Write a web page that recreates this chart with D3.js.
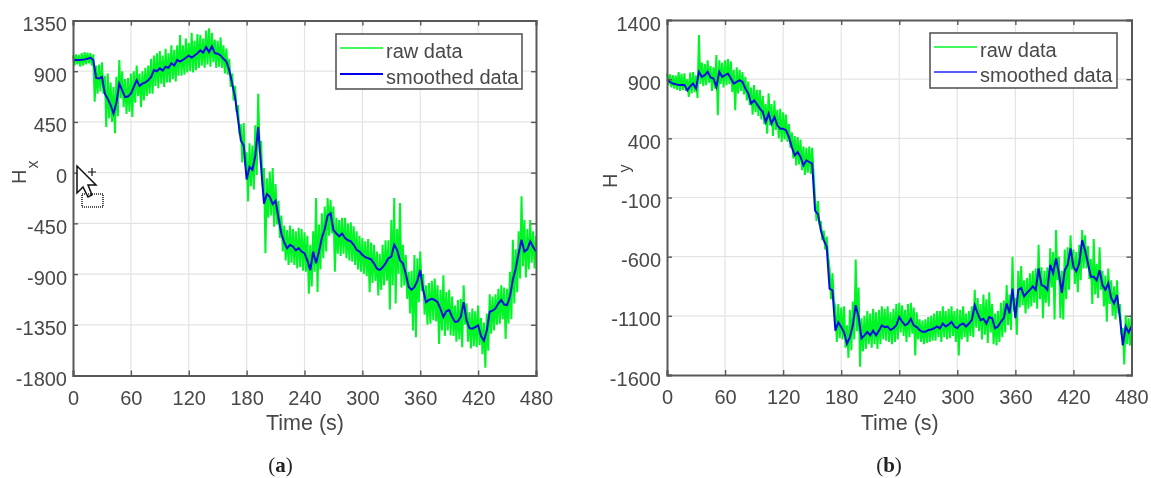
<!DOCTYPE html>
<html>
<head>
<meta charset="utf-8">
<script src="https://cdnjs.cloudflare.com/ajax/libs/d3/7.8.5/d3.min.js"></script>
<style>
    html, body { margin: 0; padding: 0; background: #fff; }
    svg { display: block; filter: blur(0.5px); }
    text { font-family: "Liberation Sans", Arial, sans-serif; fill: #484848; }
</style>
</head>
<body>
<div id="chart"></div>
<script>
//Datos: cada fila son 60 s, una muestra cada 3 s
const xTicks = [0, 60, 120, 180, 240, 300, 360, 420, 480];
const hxTicks = [-1800, -1350, -900, -450, 0, 450, 900, 1350];
const hyTicks = [-1600, -1100, -600, -100, 400, 900, 1400];

const hxSmooth = [
    998, 1000, 1000, 1002, 1005, 1010, 1020, 1000, 840, 835, 850, 700, 655, 600, 525, 620, 790, 730, 670, 675,
    700, 760, 820, 770, 790, 800, 820, 850, 910, 900, 925, 905, 940, 930, 970, 950, 1000, 985, 1000, 1020,
    1040, 1020, 1040, 1060, 1085, 1065, 1115, 1070, 1120, 1060, 1055, 1040, 1010, 985, 910, 790, 670, 480, 285, 240,
    -60, 50, 25, 150, 405, 50, -275, -190, -215, -280, -250, -400, -540, -620, -670, -640, -655, -690, -670, -700,
    -715, -780, -865, -700, -805, -700, -580, -500, -380, -360, -510, -540, -565, -540, -580, -600, -610, -640, -685, -700,
    -730, -750, -760, -770, -805, -850, -865, -840, -805, -760, -745, -640, -685, -780, -805, -900, -1015, -1040, -1015, -960,
    -865, -1040, -1150, -1130, -1120, -1130, -1150, -1210, -1280, -1230, -1220, -1280, -1325, -1320, -1280, -1150, -1310, -1380, -1385, -1370,
    -1355, -1450, -1490, -1400, -1235, -1225, -1205, -1160, -1130, -1170, -1175, -1100, -950, -850, -715, -595, -700, -680, -610, -660,
    -700
];
const hxRawHigh = [
    1040, 1050, 1045, 1060, 1070, 1065, 1060, 1050, 950, 960, 980, 860, 880, 800, 760, 850, 1000, 900, 830, 840,
    880, 900, 950, 880, 900, 930, 950, 1010, 1040, 1060, 1080, 1040, 1100, 1060, 1130, 1090, 1130, 1220, 1130, 1190,
    1150, 1240, 1170, 1230, 1220, 1190, 1260, 1280, 1240, 1180, 1170, 1200, 1130, 1100, 1010, 880, 770, 600, 430, 440,
    180, 260, 240, 420, 700, 280, 40, -50, 10, 40, -100, -250, -380, -470, -510, -470, -500, -520, -490, -500,
    -530, -560, -640, -520, -225, -460, -360, -300, -225, -240, -300, -400, -420, -400, -400, -450, -440, -475, -520, -560,
    -580, -610, -590, -620, -640, -700, -720, -640, -600, -600, -420, -225, -500, -270, -640, -730, -880, -870, -730, -760,
    -700, -900, -1000, -980, -960, -940, -1000, -1040, -910, -1060, -1040, -1100, -1180, -1130, -1120, -1000, -1160, -1240, -1205, -1230,
    -1180, -1290, -1330, -1250, -1080, -1100, -1080, -1030, -1000, -1020, -1030, -880, -595, -680, -520, -210, -420, -500, -420, -520,
    -560
];
const hxRawLow = [
    950, 960, 940, 950, 960, 970, 950, 630, 700, 720, 700, 405, 480, 450, 350, 500, 660, 580, 520, 540,
    495, 620, 680, 580, 640, 680, 700, 700, 770, 750, 790, 760, 800, 800, 830, 810, 860, 860, 870, 890,
    900, 890, 910, 930, 950, 930, 960, 940, 980, 930, 940, 930, 880, 870, 760, 640, 540, 340, 90, 60,
    -255, -120, -150, -20, 180, -120, -715, -400, -380, -480, -460, -580, -700, -780, -820, -800, -820, -850, -840, -870,
    -880, -1075, -1010, -880, -1060, -860, -760, -700, -560, -540, -880, -720, -740, -720, -760, -780, -790, -820, -860, -880,
    -900, -920, -1060, -980, -960, -1090, -1040, -1000, -960, -1215, -1000, -1160, -900, -1020, -1000, -1120, -1250, -1400, -1460, -1150,
    -1050, -1260, -1350, -1340, -1310, -1320, -1520, -1400, -1450, -1400, -1445, -1450, -1500, -1480, -1550, -1350, -1500, -1560, -1540, -1550,
    -1530, -1610, -1730, -1580, -1430, -1400, -1350, -1340, -1300, -1475, -1340, -1300, -1160, -1060, -940, -830, -930, -860, -800, -850,
    -860
];

const hySmooth = [
    897, 877, 863, 858, 850, 850, 850, 806, 840, 863, 820, 962, 920, 934, 962, 914, 906, 835, 962, 920,
    934, 948, 906, 863, 877, 892, 877, 820, 778, 694, 722, 688, 651, 623, 538, 609, 524, 581, 510, 482,
    482, 468, 411, 326, 256, 284, 242, 171, 214, 200, 186, -210, -240, -380, -460, -515, -870, -885, -1225, -1155,
    -1195, -1240, -1335, -1280, -1180, -1010, -1110, -1290, -1265, -1235, -1265, -1225, -1265, -1225, -1180, -1195, -1190, -1220, -1205, -1180,
    -1110, -1150, -1180, -1165, -1125, -1180, -1195, -1220, -1235, -1235, -1220, -1215, -1205, -1190, -1205, -1165, -1190, -1175, -1150, -1190,
    -1205, -1175, -1165, -1190, -1165, -1135, -1010, -1080, -1137, -1125, -1165, -1110, -1120, -1205, -1190, -1150, -1120, -995, -1080, -870,
    -1120, -880, -865, -935, -905, -880, -850, -880, -700, -840, -850, -880, -670, -740, -615, -740, -905, -715, -670, -530,
    -685, -725, -655, -460, -545, -655, -770, -770, -800, -715, -840, -880, -825, -950, -995, -925, -1110, -1350, -1190, -1240,
    -1190
];
const hyRawHigh = [
    950, 940, 935, 930, 960, 945, 950, 900, 955, 960, 930, 1272, 1040, 1030, 1060, 1010, 1000, 1103, 1060, 1040,
    1060, 1070, 1050, 980, 1000, 980, 960, 920, 880, 830, 850, 810, 810, 760, 690, 780, 690, 720, 640, 650,
    620, 600, 520, 450, 420, 410, 390, 330, 320, 330, 320, -100, -130, -300, -380, -430, -700, -740, -1020, -1000,
    -1030, -1020, -1180, -1050, -980, -625, -860, -1120, -1100, -1060, -1080, -1040, -1070, -1050, -1020, -1040, -1020, -1070, -1040, -1000,
    -990, -1010, -1050, -1000, -990, -1030, -1070, -1130, -1140, -1130, -1110, -1100, -1080, -1060, -1060, -1020, -1060, -1040, -1020, -1060,
    -1040, -1050, -1020, -1080, -1060, -1020, -880, -950, -1000, -920, -960, -900, -1000, -1080, -1060, -990, -970, -840, -920, -600,
    -950, -720, -680, -800, -780, -740, -720, -700, -500, -690, -720, -690, -530, -560, -375, -600, -720, -540, -520, -420,
    -540, -560, -500, -375, -420, -510, -620, -450, -660, -520, -720, -760, -700, -800, -850, -800, -1000, -1200, -1095, -1120,
    -1090
];
const hyRawLow = [
    850, 830, 820, 810, 800, 810, 800, 750, 780, 790, 740, 860, 840, 850, 870, 800, 820, 595, 860, 830,
    850, 860, 790, 637, 780, 800, 770, 720, 680, 600, 620, 590, 560, 520, 440, 510, 420, 470, 400, 370,
    390, 370, 320, 230, 170, 180, 130, 90, 110, 100, 100, -300, -330, -460, -540, -600, -960, -980, -1320, -1290,
    -1300, -1370, -1455, -1390, -1300, -1230, -1530, -1400, -1380, -1340, -1370, -1340, -1380, -1340, -1300, -1310, -1320, -1340, -1320, -1300,
    -1240, -1270, -1320, -1280, -1250, -1435, -1300, -1320, -1340, -1330, -1320, -1310, -1310, -1280, -1320, -1280, -1300, -1290, -1270, -1320,
    -1435, -1300, -1280, -1320, -1270, -1280, -1200, -1230, -1300, -1260, -1330, -1240, -1340, -1350, -1320, -1280, -1240, -1180, -1220, -1060,
    -1260, -1030, -1010, -1080, -1040, -1020, -990, -1040, -960, -1120, -990, -1020, -860, -1130, -800, -1120, -1130, -960, -880, -710,
    -830, -900, -800, -700, -700, -790, -1000, -920, -950, -880, -1020, -1150, -1000, -1100, -1130, -1080, -1260, -1510, -1340, -1350,
    -1300
];

//Colores fijos
const COLOR_RAW = '#00f526',
COLOR_SMOOTH = '#0010dc',
COLOR_AXIS = '#585858',
COLOR_GRID = '#e4e4e4';

const STEP = 3;

let svg = d3.select('#chart')
    .append('svg')
    .attr('width', 1151)
    .attr('height', 478);

function drawPanel(opt) {
    let g = svg.append('g');

    let x = d3.scaleLinear().domain([0, 480]).range([opt.left, opt.right]);
    let y = d3.scaleLinear().domain(d3.extent(opt.yTicks)).range([opt.bottom, opt.top]);

    //Rejilla
    g.append('g')
        .selectAll('line')
        .data(xTicks.slice(1, -1))
        .enter()
        .append('line')
        .attr('x1', function(d) { return x(d); })
        .attr('x2', function(d) { return x(d); })
        .attr('y1', opt.top)
        .attr('y2', opt.bottom)
        .attr('stroke', COLOR_GRID)
        .attr('stroke-width', 1.2);

    g.append('g')
        .selectAll('line')
        .data(opt.yTicks.slice(1, -1))
        .enter()
        .append('line')
        .attr('x1', opt.left)
        .attr('x2', opt.right)
        .attr('y1', function(d) { return y(d); })
        .attr('y2', function(d) { return y(d); })
        .attr('stroke', COLOR_GRID)
        .attr('stroke-width', 1.2);

    //Serie cruda: zigzag entre máximo y mínimo de cada muestra
    let raw = [];
    opt.high.forEach(function(d, i) {
        raw.push([i * STEP, d]);
        if (i < opt.high.length - 1) raw.push([i * STEP + STEP / 2, opt.low[i]]);
    });

    let line = d3.line()
        .x(function(d) { return x(d[0]); })
        .y(function(d) { return y(d[1]); });

    g.append('path')
        .datum(raw)
        .attr('fill', 'none')
        .attr('stroke', COLOR_RAW)
        .attr('stroke-width', 2)
        .attr('d', line);

    g.append('path')
        .datum(opt.smooth.map(function(d, i) { return [i * STEP, d]; }))
        .attr('fill', 'none')
        .attr('stroke', COLOR_SMOOTH)
        .attr('stroke-width', 2)
        .attr('d', line);

    //Ejes con marcas hacia dentro en los cuatro lados
    let axes = [
        { gen: d3.axisBottom(x).tickValues(xTicks).tickSize(-5).tickPadding(15), pos: 'translate(0,' + opt.bottom + ')' },
        { gen: d3.axisTop(x).tickValues(xTicks).tickSize(-5).tickFormat(''), pos: 'translate(0,' + opt.top + ')' },
        { gen: d3.axisLeft(y).tickValues(opt.yTicks).tickFormat(function(d) { return String(d); }).tickSize(-5).tickPadding(6), pos: 'translate(' + opt.left + ',0)' },
        { gen: d3.axisRight(y).tickValues(opt.yTicks).tickSize(-5).tickFormat(''), pos: 'translate(' + opt.right + ',0)' }
    ];

    axes.forEach(function(a, i) {
        let ax = g.append('g').attr('transform', a.pos).call(a.gen);
        ax.select('.domain').attr('stroke', COLOR_AXIS).attr('stroke-width', 2);
        ax.selectAll('.tick line').attr('stroke', COLOR_AXIS).attr('stroke-width', 1.4);
        ax.selectAll('.tick text').style('font-size', '20px').attr('fill', '#484848');
        //Las etiquetas del eje Y quedan algo por debajo de su marca
        if (i == 2) ax.selectAll('.tick text').attr('dy', '0.5em');
    });

    g.append('text')
        .attr('x', (opt.left + opt.right) / 2 + 0.5)
        .attr('y', 430)
        .attr('text-anchor', 'middle')
        .style('font-size', '21.5px')
        .text('Time (s)');

    //Etiqueta del eje Y con subíndice
    let yLabel = g.append('text')
        .attr('transform', 'translate(' + opt.yLabelX + ',' + opt.yLabelY + ') rotate(-90)')
        .style('font-size', '20px')
        .text('H');

    yLabel.append('tspan')
        .attr('dx', 1)
        .attr('dy', opt.subDy)
        .style('font-size', '16px')
        .text(opt.sub);

    //Leyenda
    let legend = g.append('g');

    legend.append('rect')
        .attr('x', opt.legend.x)
        .attr('y', opt.legend.y)
        .attr('width', opt.legend.w)
        .attr('height', 55)
        .attr('fill', '#fff')
        .attr('stroke', COLOR_AXIS)
        .attr('stroke-width', 1.6);

    [['raw data', COLOR_RAW, opt.legend.y + 14, 1.6], ['smoothed data', opt.legend.blue, opt.legend.y + opt.legend.gap, 1.8]].forEach(function(d) {
        legend.append('line')
            .attr('x1', opt.legend.x + 4)
            .attr('x2', opt.legend.x + 47)
            .attr('y1', d[2])
            .attr('y2', d[2])
            .attr('stroke', d[1])
            .attr('stroke-width', d[3]);

        legend.append('text')
            .attr('x', opt.legend.x + 50)
            .attr('y', d[2] + 10)
            .style('font-size', '20px')
            .text(d[0]);
    });

    //Pie del panel
    let caption = g.append('text')
        .attr('x', opt.captionX)
        .attr('y', 472)
        .attr('text-anchor', 'middle')
        .style('font-family', '"Liberation Serif", serif')
        .style('font-size', '21px')
        .style('fill', '#222');

    caption.append('tspan').text('(');
    caption.append('tspan').style('font-weight', 'bold').text(opt.caption);
    caption.append('tspan').text(')');
}

drawPanel({
    left: 73, right: 536, top: 20.5, bottom: 375.5,
    yTicks: hxTicks, smooth: hxSmooth, high: hxRawHigh, low: hxRawLow,
    sub: 'x', subDy: 12, yLabelX: 26, yLabelY: 184,
    legend: { x: 336, y: 34, w: 186, gap: 40, blue: '#0000e6' },
    caption: 'a', captionX: 280.5
});

drawPanel({
    left: 667, right: 1131.5, top: 20, bottom: 375,
    yTicks: hyTicks, smooth: hySmooth, high: hyRawHigh, low: hyRawLow,
    sub: 'y', subDy: 13, yLabelX: 617, yLabelY: 188,
    legend: { x: 930, y: 33, w: 187, gap: 39, blue: '#5a5aff' },
    caption: 'b', captionX: 889
});

//Cursor que aparece en la captura original
let cursor = svg.append('g');

cursor.append('path')
    .attr('d', 'M77 166 L77 193 L83 187 L88 197 L92 195 L88 185 L96 185 Z')
    .attr('fill', '#fff')
    .attr('stroke', '#111')
    .attr('stroke-width', 1.5);

cursor.append('path')
    .attr('d', 'M92 168 V176 M88 172 H96')
    .attr('stroke', '#111')
    .attr('stroke-width', 1.2);

cursor.append('rect')
    .attr('x', 82)
    .attr('y', 194)
    .attr('width', 21)
    .attr('height', 13)
    .attr('fill', 'none')
    .attr('stroke', '#222')
    .attr('stroke-width', 1.6)
    .attr('stroke-dasharray', '1 1');
</script>
</body>
</html>
